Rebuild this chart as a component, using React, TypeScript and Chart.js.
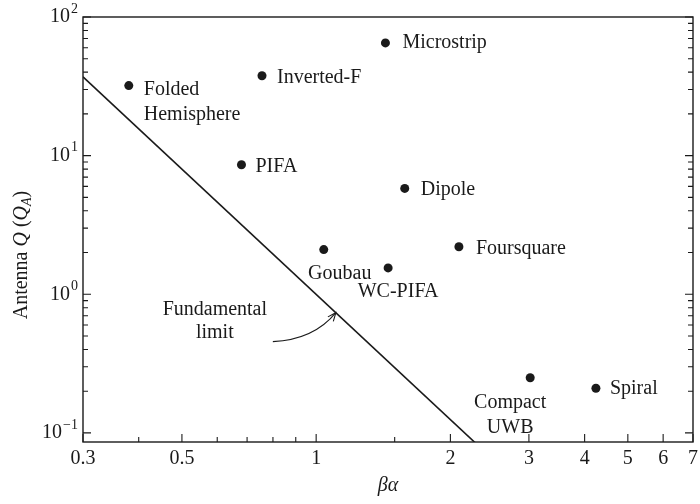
import React, { useEffect, useRef } from "react";
import { Chart, registerables } from "chart.js";

Chart.register(...registerables);

// ---- data ----
const antennaNames = [
  "Folded\nHemisphere",
  "Inverted-F",
  "Microstrip",
  "PIFA",
  "Dipole",
  "Goubau",
  "WC-PIFA",
  "Foursquare",
  "Compact\nUWB",
  "Spiral",
];
const betaAlpha = [0.38, 0.756, 1.43, 0.68, 1.58, 1.04, 1.45, 2.09, 3.02, 4.24];
const antennaQ = [32, 37.7, 65, 8.6, 5.8, 2.1, 1.55, 2.2, 0.25, 0.21];

const limitBetaAlpha = [0.3, 2.3];
const limitQ = [37, 0.082];
const limitArrowTarget = [1.107, 0.737];
const limitText = ["Fundamental", "limit"];

const xTickValues = [0.3, 0.5, 1, 2, 3, 4, 5, 6, 7];
const xTickLabels = ["0.3", "0.5", "1", "2", "3", "4", "5", "6", "7"];
const xMinorValues = [0.4, 0.6, 0.7, 0.8, 0.9, 1.5];
const yTickValues = [0.1, 1, 10, 100];
const yTickExponents = ["\u22121", "0", "1", "2"];

// ---- styling / placement (not data) ----
const labelPlacement = [
  { dx: 15, dy: 4, align: "left" },
  { dx: 15, dy: 2, align: "left" },
  { dx: 17, dy: 0, align: "left" },
  { dx: 14, dy: 2, align: "left" },
  { dx: 16, dy: 1, align: "left" },
  { dx: 16, dy: 24, align: "center" },
  { dx: 10, dy: 24, align: "center" },
  { dx: 17, dy: 2, align: "left" },
  { dx: -20, dy: 25, align: "center" },
  { dx: 14, dy: 1, align: "left" },
];

const FONT = "'Liberation Serif', 'DejaVu Serif', serif";
const INK = "#1a1a1a";

const overlayPlugin = {
  id: "overlay",
  afterDraw(chart: any) {
    const ctx = chart.ctx as CanvasRenderingContext2D;
    const xs = chart.scales.x;
    const ys = chart.scales.y;
    const { left, right, top, bottom } = chart.chartArea;
    ctx.save();
    ctx.strokeStyle = INK;
    ctx.fillStyle = INK;

    // frame
    ctx.lineWidth = 1.4;
    ctx.strokeRect(left, top, right - left, bottom - top);

    // y ticks (left & right, inward)
    ctx.lineWidth = 1.1;
    const yMin = ys.min, yMax = ys.max;
    for (let e = -1; e <= 2; e++) {
      for (let m = 1; m <= 9; m++) {
        const v = m * Math.pow(10, e);
        if (v < yMin * 1.0001 || v > yMax * 1.0001) continue;
        const py = ys.getPixelForValue(v);
        const len = m === 1 ? 8 : 5;
        ctx.beginPath();
        ctx.moveTo(left, py);
        ctx.lineTo(left + len, py);
        ctx.moveTo(right, py);
        ctx.lineTo(right - len, py);
        ctx.stroke();
      }
    }
    // x ticks (bottom, inward)
    xTickValues.forEach((v) => {
      const px = xs.getPixelForValue(v);
      ctx.beginPath();
      ctx.moveTo(px, bottom);
      ctx.lineTo(px, bottom - 8);
      ctx.stroke();
    });
    xMinorValues.forEach((v) => {
      const px = xs.getPixelForValue(v);
      ctx.beginPath();
      ctx.moveTo(px, bottom);
      ctx.lineTo(px, bottom - 5);
      ctx.stroke();
    });

    // x tick labels
    ctx.font = `20px ${FONT}`;
    ctx.textAlign = "center";
    ctx.textBaseline = "middle";
    xTickValues.forEach((v, i) => {
      ctx.fillText(xTickLabels[i], xs.getPixelForValue(v), bottom + 17);
    });

    // y tick labels 10^n
    yTickValues.forEach((v, i) => {
      const py = ys.getPixelForValue(v);
      ctx.font = `14px ${FONT}`;
      const ew = ctx.measureText(yTickExponents[i]).width;
      const xr = left - 5;
      ctx.textAlign = "left";
      ctx.textBaseline = "middle";
      ctx.fillText(yTickExponents[i], xr - ew, py - 8);
      ctx.font = `20px ${FONT}`;
      ctx.textAlign = "right";
      ctx.fillText("10", xr - ew - 1, py);
    });

    // x title
    ctx.font = `italic 20px ${FONT}`;
    ctx.textAlign = "center";
    ctx.textBaseline = "middle";
    ctx.fillText("\u03b2\u03b1", (left + right) / 2, bottom + 44);

    // y title (rotated)
    ctx.save();
    ctx.translate(22, 255);
    ctx.rotate(-Math.PI / 2);
    ctx.textBaseline = "middle";
    const parts: [string, string, number][] = [
      ["Antenna ", `20px ${FONT}`, 0],
      ["Q", `italic 20px ${FONT}`, 0],
      [" (", `20px ${FONT}`, 0],
      ["Q", `italic 20px ${FONT}`, 0],
      ["A", `italic 14px ${FONT}`, 5],
      [")", `20px ${FONT}`, 0],
    ];
    let total = 0;
    parts.forEach(([t, f]) => {
      ctx.font = f;
      total += ctx.measureText(t).width;
    });
    let cx = -total / 2;
    ctx.textAlign = "left";
    parts.forEach(([t, f, dy]) => {
      ctx.font = f;
      ctx.fillText(t, cx, dy);
      cx += ctx.measureText(t).width;
    });
    ctx.restore();

    // point labels
    ctx.font = `20px ${FONT}`;
    ctx.textBaseline = "middle";
    antennaNames.forEach((name, i) => {
      const px = xs.getPixelForValue(betaAlpha[i]);
      const py = ys.getPixelForValue(antennaQ[i]);
      const p = labelPlacement[i];
      ctx.textAlign = p.align as CanvasTextAlign;
      name.split("\n").forEach((line, j) => {
        ctx.fillText(line, px + p.dx, py + p.dy + j * 25);
      });
    });

    // fundamental limit annotation
    const tx = xs.getPixelForValue(limitArrowTarget[0]);
    const ty = ys.getPixelForValue(limitArrowTarget[1]);
    ctx.textAlign = "center";
    limitText.forEach((t, j) => ctx.fillText(t, tx - 121, ty - 3 + j * 23));
    const sx = tx - 63, sy = ty + 29;
    const cpx = tx - 22, cpy = ty + 27;
    ctx.lineWidth = 1.1;
    ctx.beginPath();
    ctx.moveTo(sx, sy);
    ctx.quadraticCurveTo(cpx, cpy, tx, ty);
    ctx.stroke();
    const ang = Math.atan2(ty - cpy, tx - cpx);
    const ah = 9;
    ctx.beginPath();
    ctx.moveTo(tx - ah * Math.cos(ang - 0.4), ty - ah * Math.sin(ang - 0.4));
    ctx.lineTo(tx, ty);
    ctx.lineTo(tx - ah * Math.cos(ang + 0.4), ty - ah * Math.sin(ang + 0.4));
    ctx.stroke();

    ctx.restore();
  },
};

export default function App() {
  const ref = useRef<HTMLCanvasElement | null>(null);
  useEffect(() => {
    document.body.style.margin = "0";
    const canvas = ref.current!;
    const chart = new Chart(canvas, {
      type: "scatter",
      data: {
        datasets: [
          {
            type: "line",
            data: limitBetaAlpha.map((x, i) => ({ x, y: limitQ[i] })),
            borderColor: INK,
            borderWidth: 1.6,
            pointRadius: 0,
            fill: false,
            clip: 0,
          } as any,
          {
            type: "scatter",
            data: betaAlpha.map((x, i) => ({ x, y: antennaQ[i] })),
            backgroundColor: INK,
            borderWidth: 0,
            pointRadius: 4.5,
          },
        ],
      },
      options: {
        responsive: false,
        animation: false,
        layout: { padding: { top: 17, right: 7, left: 0, bottom: 0 } },
        plugins: { legend: { display: false }, tooltip: { enabled: false } },
        scales: {
          x: {
            type: "logarithmic",
            min: 0.3,
            max: 7,
            ticks: { display: false },
            grid: { display: false },
            border: { display: false },
            afterFit: (s: any) => {
              s.height = 62;
            },
          },
          y: {
            type: "logarithmic",
            min: 0.086,
            max: 100,
            ticks: { display: false },
            grid: { display: false },
            border: { display: false },
            afterFit: (s: any) => {
              s.width = 83;
            },
          },
        },
      },
      plugins: [overlayPlugin],
    });
    return () => chart.destroy();
  }, []);
  return (
    <div style={{ width: 700, height: 504, background: "#fff" }}>
      <canvas ref={ref} width={700} height={504} style={{ display: "block" }} />
    </div>
  );
}
